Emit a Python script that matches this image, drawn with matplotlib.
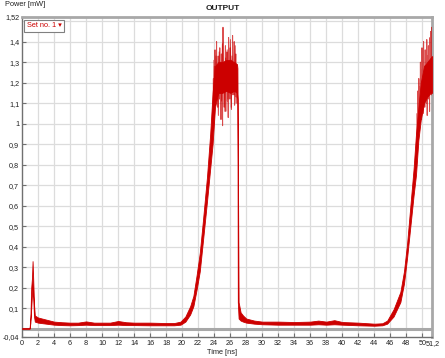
import matplotlib
matplotlib.use("Agg")
import matplotlib.pyplot as plt
import matplotlib.transforms as mtransforms

plt.rcParams['font.family'] = ['Liberation Sans', 'DejaVu Sans']

# ---- data ----
# envelope of the trace core: time [ns], lower and upper power [mW]
time_ns = [0.0, 0.95, 1.05, 1.15, 1.25, 1.32, 1.40, 1.5, 1.6, 2.0, 3.0, 4.0, 5.0, 6.0, 7.0,
           8.0, 9.0, 10.0, 11.0, 12.0, 13.0, 14.0, 16.0, 18.0, 19.0, 19.8, 20.4, 21.0, 21.4,
           21.8, 22.2, 22.6, 23.1, 23.5, 23.8, 24.1, 24.5, 25.0, 25.5, 26.0, 26.5, 26.85,
           26.9, 26.95, 27.05, 27.3, 27.6, 28.0, 29.0, 30.0, 32.0, 34.0, 36.0, 37.0, 38.0,
           39.0, 40.0, 42.0, 44.0, 45.0, 45.6, 46.4, 47.25, 47.7, 48.1, 48.5, 48.9, 49.2,
           49.5, 49.8, 50.2, 50.6, 51.0, 51.2]
power_lo = [0.000, 0.000, 0.030, 0.100, 0.170, 0.200, 0.150, 0.060, 0.035, 0.030, 0.025, 0.020,
            0.018, 0.017, 0.018, 0.020, 0.018, 0.018, 0.018, 0.020, 0.018, 0.018, 0.017, 0.017,
            0.017, 0.020, 0.035, 0.070, 0.110, 0.190, 0.280, 0.430, 0.620, 0.780, 0.900, 1.080,
            1.150, 1.150, 1.160, 1.150, 1.160, 1.150, 1.120, 0.130, 0.050, 0.040, 0.035, 0.030,
            0.025, 0.022, 0.020, 0.020, 0.020, 0.022, 0.020, 0.022, 0.020, 0.017, 0.015, 0.017,
            0.025, 0.060, 0.130, 0.220, 0.350, 0.500, 0.650, 0.750, 0.920, 1.020, 1.100, 1.130,
            1.150, 1.150]
power_hi = [0.003, 0.003, 0.060, 0.200, 0.250, 0.330, 0.240, 0.120, 0.065, 0.055, 0.045, 0.035,
            0.032, 0.030, 0.030, 0.036, 0.030, 0.030, 0.030, 0.038, 0.032, 0.030, 0.030, 0.028,
            0.028, 0.035, 0.060, 0.110, 0.160, 0.260, 0.370, 0.530, 0.740, 0.950, 1.150, 1.280,
            1.300, 1.300, 1.310, 1.310, 1.300, 1.290, 1.270, 0.900, 0.130, 0.080, 0.065, 0.050,
            0.040, 0.035, 0.035, 0.033, 0.035, 0.040, 0.035, 0.042, 0.033, 0.030, 0.025, 0.027,
            0.040, 0.095, 0.180, 0.280, 0.420, 0.600, 0.780, 0.950, 1.080, 1.200, 1.280, 1.300,
            1.320, 1.330]

# individual noise spikes on the first plateau
spike_t = [23.85, 23.9, 23.95, 24.0, 24.05, 24.1, 24.15, 24.2, 24.25, 24.3, 24.35, 24.4, 24.45,
           24.5, 24.55, 24.6, 24.65, 24.7, 24.75, 24.8, 24.85, 24.9, 24.95, 25.0, 25.05, 25.1,
           25.15, 25.2, 25.25, 25.3, 25.35, 25.4, 25.45, 25.5, 25.55, 25.6, 25.65, 25.7, 25.75,
           25.8, 25.85, 25.9, 25.95, 26.0, 26.05, 26.1, 26.15, 26.2, 26.25, 26.3, 26.35, 26.4,
           26.45, 26.5, 26.55, 26.6, 26.65, 26.7, 26.75, 26.8, 26.85]
spike_v = [1.05, 1.22, 1.00, 1.31, 1.18, 1.36, 1.10, 1.27, 1.20, 1.40,
           1.13, 1.24, 1.08, 1.33, 1.21, 1.29, 1.12, 1.37, 1.17, 1.26,
           1.02, 1.34, 1.15, 1.23, 0.99, 1.47, 1.16, 1.30, 1.08, 1.25,
           1.19, 1.38, 1.06, 1.28, 1.22, 1.35, 1.11, 1.24, 1.03, 1.42,
           1.18, 1.27, 1.12, 1.37, 1.20, 1.31, 1.07, 1.29, 1.16, 1.43,
           1.14, 1.26, 1.19, 1.40, 1.09, 1.30, 1.21, 1.34, 1.13, 1.25,
           1.10]
spike_b_t = [23.925, 24.025, 24.125, 24.225, 24.325, 24.425, 24.525, 24.625, 24.725, 24.825,
             24.925, 25.025, 25.125, 25.225, 25.325, 25.425, 25.525, 25.625, 25.725, 25.825,
             25.925, 26.025, 26.125, 26.225, 26.325, 26.425, 26.525, 26.625, 26.725, 26.825]
spike_b_v = [1.15, 1.28, 1.09, 1.33, 1.20, 1.26, 1.04, 1.35, 1.18, 1.30,
             1.11, 1.39, 1.22, 1.27, 1.06, 1.32, 1.17, 1.36, 1.12, 1.29,
             1.21, 1.41, 1.08, 1.33, 1.19, 1.27, 1.14, 1.38, 1.10, 1.28]
# individual noise spikes on the second plateau
spike2_t = [49.3, 49.35, 49.4, 49.45, 49.5, 49.55, 49.6, 49.65, 49.7, 49.75, 49.8, 49.85, 49.9,
            49.95, 50.0, 50.05, 50.1, 50.15, 50.2, 50.25, 50.3, 50.35, 50.4, 50.45, 50.5, 50.55,
            50.6, 50.65, 50.7, 50.75, 50.8, 50.85, 50.9, 50.95, 51.0, 51.05, 51.1, 51.15, 51.2]
spike2_v = [0.85, 1.05, 0.90, 1.16, 0.97, 1.22, 1.03, 1.18, 1.00, 1.30,
            1.08, 1.26, 1.02, 1.37, 1.12, 1.25, 1.05, 1.40, 1.15, 1.28,
            1.08, 1.36, 1.18, 1.24, 1.10, 1.41, 1.04, 1.33, 1.17, 1.38,
            1.12, 1.27, 1.06, 1.42, 1.20, 1.45, 1.14, 1.47, 1.22]

x_ticks = [0, 2, 4, 6, 8, 10, 12, 14, 16, 18, 20, 22, 24, 26, 28, 30, 32, 34, 36, 38, 40, 42,
           44, 46, 48, 50, 51.2]
x_labels = ['0', '2', '4', '6', '8', '10', '12', '14', '16', '18', '20', '22', '24', '26', '28',
            '30', '32', '34', '36', '38', '40', '42', '44', '46', '48', '50', '51,2']
y_ticks = [-0.04, 0.1, 0.2, 0.3, 0.4, 0.5, 0.6, 0.7, 0.8, 0.9, 1.0, 1.1, 1.2, 1.3, 1.4, 1.52]
y_labels = ['-0,04', '0,1', '0,2', '0,3', '0,4', '0,5', '0,6', '0,7', '0,8', '0,9', '1',
            '1,1', '1,2', '1,3', '1,4', '1,52']
y_grid = [0.1, 0.2, 0.3, 0.4, 0.5, 0.6, 0.7, 0.8, 0.9, 1.0, 1.1, 1.2, 1.3, 1.4, 1.5]

# ---- figure ----
fig = plt.figure(figsize=(4.45, 3.58), dpi=100)
ax = fig.add_axes([22/445, 21/358, 410/445, 320/358])
ax.set_xlim(0, 51.2)
ax.set_ylim(-0.04, 1.52)

grid_c = '#dcdcdc'
for x in x_ticks[1:-1]:
    ax.axvline(x, color=grid_c, lw=0.9, zorder=0)
for y in y_grid:
    ax.axhline(y, color=grid_c, lw=0.9, zorder=0)
ax.axhline(0, color='#a8a8a8', lw=2.2, zorder=1)

red = '#cc0000'
ax.fill_between(time_ns, power_lo, power_hi, color=red, lw=0.6, edgecolor=red, zorder=3)
ax.plot(spike_t, spike_v, color='#cc0000', lw=0.7, alpha=0.7, zorder=4)
ax.plot(spike_b_t, spike_b_v, color='#cc0000', lw=0.7, alpha=0.7, zorder=4)
ax.plot(spike2_t, spike2_v, color='#cc0000', lw=0.7, alpha=0.7, zorder=4)

ax.set_xticks(x_ticks)
ax.set_xticklabels(x_labels)
ax.set_yticks(y_ticks)
ax.set_yticklabels(y_labels)
ax.tick_params(axis='both', direction='in', length=3, width=0.8, color='#707070',
               labelsize=5.2, labelcolor='#202020', pad=2)
last = ax.get_xticklabels()[-1]
last.set_ha('left')
last.set_transform(last.get_transform() + mtransforms.ScaledTranslation(-6/100, 0, fig.dpi_scale_trans))

for s in ['left', 'bottom']:
    ax.spines[s].set_color('#707070')
    ax.spines[s].set_linewidth(1.0)
for s in ['top', 'right']:
    ax.spines[s].set_color('#a8a8a8')
    ax.spines[s].set_linewidth(2.0)

ax.text(0.012, 0.972, 'Set no. 1 \u25be', transform=ax.transAxes, fontsize=5.3,
        color='#cc0000', va='center', ha='left', zorder=6,
        bbox=dict(boxstyle='square,pad=0.35', facecolor='white', edgecolor='#808080', lw=0.8))

fig.text(0.5, 1 - 9/358, 'OUTPUT', ha='center', va='center', fontsize=6, fontweight='bold',
         color='#202020')
fig.text(5/445, 1 - 5/358, 'Power [mW]', ha='left', va='center', fontsize=5.3, color='#202020')
fig.text(222/445, 6/358, 'Time [ns]', ha='center', va='center', fontsize=5.3, color='#202020')

fig.savefig('out.png', dpi=100)
